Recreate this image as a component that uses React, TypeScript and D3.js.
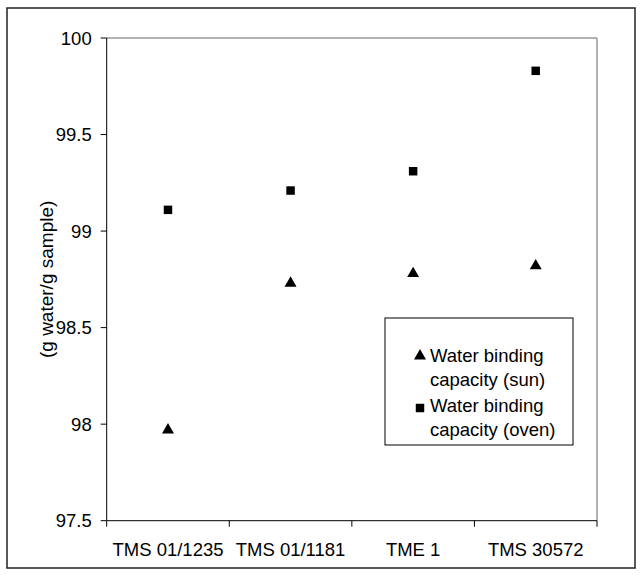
import React from "react";
import * as d3 from "d3";

const categories = ["TMS 01/1235", "TMS 01/1181", "TME 1", "TMS 30572"];
const sunValues = [97.97, 98.73, 98.78, 98.82];
const ovenValues = [99.11, 99.21, 99.31, 99.83];
const yTicks = [97.5, 98, 98.5, 99, 99.5, 100];
const yTickLabels = ["97.5", "98", "98.5", "99", "99.5", "100"];
const yTitle = "(g water/g sample)";
const legendSun = ["Water binding", "capacity (sun)"];
const legendOven = ["Water binding", "capacity (oven)"];

const W = 642;
const H = 575;
const M = { left: 106.7, right: 597, top: 38, bottom: 520.7 };
const FONT = "Arial, 'Liberation Sans', sans-serif";
const FS = 18.5;

export default function App() {
  const x = d3.scaleBand<string>().domain(categories).range([M.left, M.right]).padding(0);
  const y = d3.scaleLinear().domain([97.5, 100]).range([M.bottom, M.top]);
  const tri = d3.symbol().type(d3.symbolTriangle).size(62)()!;
  const sq = d3.symbol().type(d3.symbolSquare).size(72)()!;
  const boundaries = [...categories.map((c) => x(c)!), M.right];

  return (
    <svg width={W} height={H} style={{ position: "absolute", left: 0, top: 0, background: "#fff" }}>
      <rect x={7} y={8} width={628} height={560} fill="#fff" stroke="#222" strokeWidth={1.5} />
      {/* plot frame */}
      <line x1={M.left} x2={M.right} y1={M.top} y2={M.top} stroke="#999" strokeWidth={1.5} />
      <line x1={M.right} x2={M.right} y1={M.top} y2={M.bottom} stroke="#999" strokeWidth={1.5} />
      <line x1={M.left} x2={M.left} y1={M.top} y2={M.bottom} stroke="#000" strokeWidth={1} />
      <line x1={M.left} x2={M.right} y1={M.bottom} y2={M.bottom} stroke="#000" strokeWidth={1} />
      {yTicks.map((t, i) => (
        <g key={t}>
          <line x1={M.left - 6} x2={M.left} y1={y(t)} y2={y(t)} stroke="#000" />
          <text x={M.left - 15} y={y(t)} dy="0.36em" textAnchor="end" fontFamily={FONT} fontSize={FS} fill="#000">
            {yTickLabels[i]}
          </text>
        </g>
      ))}
      {boundaries.map((b, i) => (
        <line key={i} x1={b} x2={b} y1={M.bottom} y2={M.bottom + 6} stroke="#000" />
      ))}
      {categories.map((c) => (
        <text key={c} x={x(c)! + x.bandwidth() / 2} y={M.bottom + 35} textAnchor="middle" fontFamily={FONT} fontSize={FS} fill="#000">
          {c}
        </text>
      ))}
      <text
        transform={`translate(46, ${(M.top + M.bottom) / 2}) rotate(-90)`}
        textAnchor="middle"
        dy="0.36em"
        fontFamily={FONT}
        fontSize={19}
        fill="#000"
      >
        {yTitle}
      </text>
      {categories.map((c, i) => (
        <path key={"o" + c} d={sq} transform={`translate(${x(c)! + x.bandwidth() / 2}, ${y(ovenValues[i])})`} fill="#000" />
      ))}
      {categories.map((c, i) => (
        <path key={"s" + c} d={tri} transform={`translate(${x(c)! + x.bandwidth() / 2}, ${y(sunValues[i])})`} fill="#000" />
      ))}
      {/* legend */}
      <g>
        <rect x={385} y={318} width={188} height={127} fill="#fff" stroke="#000" strokeWidth={1} />
        <path d={tri} transform="translate(420, 356)" fill="#000" />
        <text x={430} y={362} fontFamily={FONT} fontSize={FS} fill="#000">{legendSun[0]}</text>
        <text x={430} y={386} fontFamily={FONT} fontSize={FS} fill="#000">{legendSun[1]}</text>
        <path d={sq} transform="translate(420, 408)" fill="#000" />
        <text x={430} y={412} fontFamily={FONT} fontSize={FS} fill="#000">{legendOven[0]}</text>
        <text x={430} y={436} fontFamily={FONT} fontSize={FS} fill="#000">{legendOven[1]}</text>
      </g>
    </svg>
  );
}
